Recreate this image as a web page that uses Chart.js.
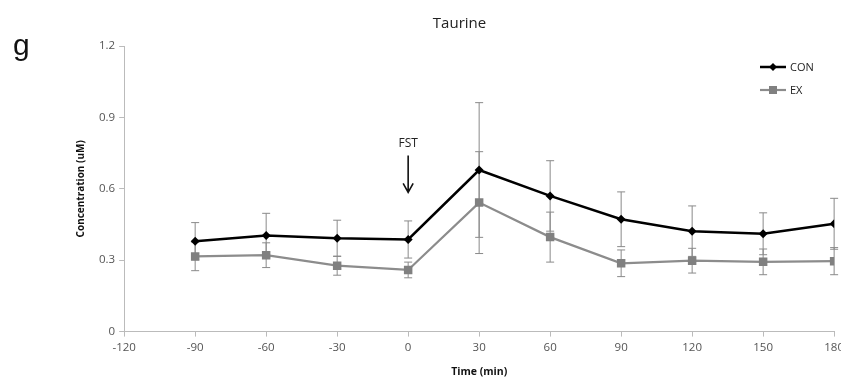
<!DOCTYPE html>
<html>
<head>
<meta charset="utf-8">
<script src="https://cdn.jsdelivr.net/npm/chart.js@4/dist/chart.umd.min.js"></script>
<style>
  body { margin: 0; background: #fff; overflow: hidden; }
  #wrap { width: 848px; height: 378px; position: relative; }
</style>
</head>
<body>
<div id="wrap"><canvas id="chart"></canvas></div>
<script>
const times = [-90, -60, -30, 0, 30, 60, 90, 120, 150, 180];
const conMean = [0.38, 0.404, 0.392, 0.387, 0.679, 0.570, 0.472, 0.422, 0.411, 0.453];
const conErr  = [0.078, 0.093, 0.076, 0.078, 0.283, 0.148, 0.115, 0.106, 0.088, 0.107];
const exMean  = [0.316, 0.321, 0.277, 0.259, 0.542, 0.397, 0.287, 0.298, 0.293, 0.296];
const exErr   = [0.060, 0.052, 0.040, 0.033, 0.214, 0.105, 0.056, 0.052, 0.054, 0.057];

const FONT = '"Open Sans", "Noto Sans", sans-serif';

const pts = (ys) => times.map((t, i) => ({ x: t, y: ys[i] }));

// error bars, drawn under the lines
const errorBars = {
  id: 'errorBars',
  beforeDatasetsDraw(chart) {
    const { ctx, scales: { x, y } } = chart;
    ctx.save();
    ctx.strokeStyle = '#8a8a8a';
    ctx.lineWidth = 1;
    [[conMean, conErr], [exMean, exErr]].forEach(([m, e]) => {
      times.forEach((t, i) => {
        const px = x.getPixelForValue(t);
        const top = y.getPixelForValue(m[i] + e[i]);
        const bot = y.getPixelForValue(m[i] - e[i]);
        ctx.beginPath();
        ctx.moveTo(px, top); ctx.lineTo(px, bot);
        ctx.moveTo(px - 4, top); ctx.lineTo(px + 4, top);
        ctx.moveTo(px - 4, bot); ctx.lineTo(px + 4, bot);
        ctx.stroke();
      });
    });
    ctx.restore();
  }
};

// panel letter, FST arrow and legend
const extras = {
  id: 'extras',
  afterDraw(chart) {
    const { ctx, scales: { x, y } } = chart;
    ctx.save();
    ctx.fillStyle = '#111';
    ctx.font = '30px "Liberation Sans", Arial, sans-serif';
    ctx.textBaseline = 'alphabetic';
    ctx.fillText('g', 13, 55);

    // FST marker at time 0
    const ax = x.getPixelForValue(0);
    ctx.font = '12px ' + FONT;
    ctx.textAlign = 'center';
    ctx.fillStyle = '#222';
    ctx.fillText('FST', ax, y.getPixelForValue(0.775));
    const a0 = y.getPixelForValue(0.74), a1 = y.getPixelForValue(0.585);
    ctx.strokeStyle = '#111';
    ctx.lineWidth = 1.6;
    ctx.beginPath();
    ctx.moveTo(ax, a0); ctx.lineTo(ax, a1);
    ctx.moveTo(ax - 5, a1 - 9); ctx.lineTo(ax, a1); ctx.lineTo(ax + 5, a1 - 9);
    ctx.stroke();

    // legend
    const lx = 760;
    chart.data.datasets.forEach((ds, i) => {
      const ly = 67 + i * 23;
      ctx.strokeStyle = ds.borderColor;
      ctx.lineWidth = ds.borderWidth;
      ctx.beginPath(); ctx.moveTo(lx, ly); ctx.lineTo(lx + 26, ly); ctx.stroke();
      ctx.fillStyle = ds.pointBackgroundColor;
      if (ds.pointStyle === 'rectRot') {
        ctx.beginPath();
        ctx.moveTo(lx + 13, ly - 4); ctx.lineTo(lx + 17, ly); ctx.lineTo(lx + 13, ly + 4); ctx.lineTo(lx + 9, ly);
        ctx.closePath(); ctx.fill();
      } else {
        ctx.fillRect(lx + 9, ly - 4, 8, 8);
      }
      ctx.fillStyle = '#222';
      ctx.font = '11px ' + FONT;
      ctx.textAlign = 'left';
      ctx.textBaseline = 'middle';
      ctx.fillText(ds.label, lx + 30, ly + 1);
    });
    ctx.restore();
  }
};

new Chart(document.getElementById('chart'), {
  type: 'line',
  data: {
    datasets: [
      {
        label: 'CON',
        data: pts(conMean),
        borderColor: '#000',
        borderWidth: 2.5,
        pointStyle: 'rectRot',
        pointRadius: 4.5,
        pointBackgroundColor: '#000',
        pointBorderColor: '#000',
        pointBorderWidth: 0
      },
      {
        label: 'EX',
        data: pts(exMean),
        borderColor: '#8c8c8c',
        borderWidth: 2.2,
        pointStyle: 'rect',
        pointRadius: 6,
        pointBackgroundColor: '#808080',
        pointBorderColor: '#808080',
        pointBorderWidth: 0
      }
    ]
  },
  options: {
    responsive: true,
    maintainAspectRatio: false,
    animation: false,
    layout: { padding: { left: 71, top: 9, right: 0, bottom: 0 } },
    plugins: {
      legend: { display: false },
      tooltip: { enabled: false },
      title: {
        display: true,
        text: 'Taurine',
        color: '#222',
        font: { family: FONT, size: 15, weight: 'normal' },
        padding: { top: 6, bottom: 13 }
      }
    },
    scales: {
      x: {
        type: 'linear',
        min: -120,
        max: 180,
        ticks: { stepSize: 30, color: '#555', font: { family: FONT, size: 11.5 }, maxRotation: 0, padding: 4 },
        grid: { drawOnChartArea: false, color: '#bbb', tickLength: 5 },
        border: { color: '#bbb' },
        title: { display: true, text: 'Time (min)', color: '#111', font: { family: FONT, size: 10.5, weight: 'bold' }, padding: { top: 7, bottom: 0 } }
      },
      y: {
        min: 0,
        max: 1.2,
        ticks: { stepSize: 0.3, color: '#555', font: { family: FONT, size: 11.5 }, padding: 4 },
        grid: { drawOnChartArea: false, color: '#bbb', tickLength: 5 },
        border: { color: '#bbb' },
        title: { display: true, text: 'Concentration (uM)', color: '#111', font: { family: FONT, size: 10, weight: 'bold' }, padding: { bottom: 8 } }
      }
    }
  },
  plugins: [errorBars, extras]
});
</script>
</body>
</html>
